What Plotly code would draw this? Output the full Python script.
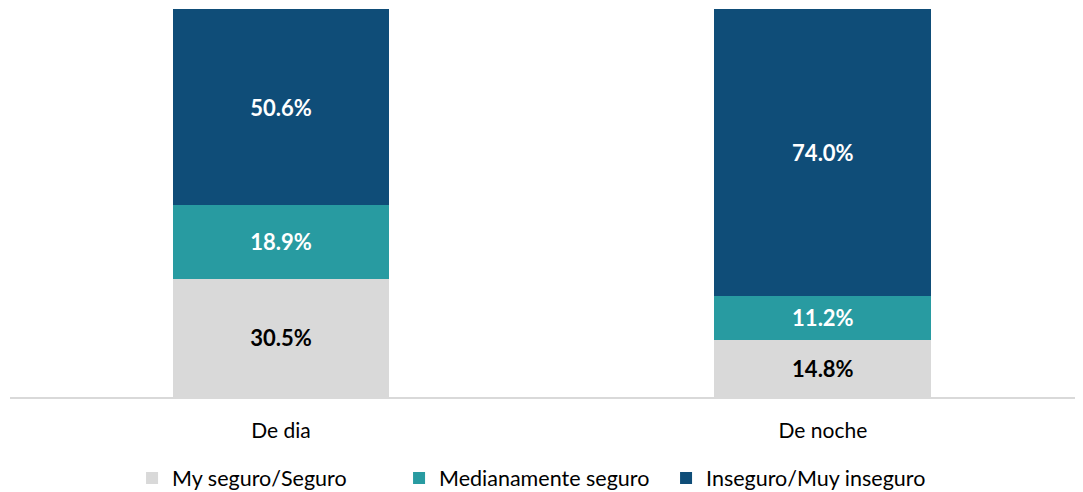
import plotly.graph_objects as go

categories = ["De dia", "De noche"]
seguro = [30.5, 14.8]
mediano = [18.9, 11.2]
inseguro = [50.6, 74.0]
series_names = ["My seguro/Seguro", "Medianamente seguro", "Inseguro/Muy inseguro"]
colors = ["#D9D9D9", "#289BA1", "#0F4D78"]
text_colors = ["#000000", "#FFFFFF", "#FFFFFF"]

FONT = "Lato"
fig = go.Figure()
for name, vals, c, tc in zip(series_names, [seguro, mediano, inseguro], colors, text_colors):
    fig.add_trace(go.Bar(
        x=categories, y=vals, name=name,
        marker=dict(color=c, line=dict(width=0)),
        width=0.4,
        text=[f"{v:.1f}%" for v in vals],
        textposition="inside", insidetextanchor="middle",
        textfont=dict(family=FONT, size=22, color=tc, weight="bold"),
        textangle=0,
        hoverinfo="skip",
    ))

# the page body has an 8px default margin, so the figure is placed at (8, 8)
fig.update_layout(
    barmode="stack",
    width=1075, height=484,
    margin=dict(l=2, r=0, t=1, b=95, autoexpand=False),
    plot_bgcolor="white", paper_bgcolor="white",
    font=dict(family=FONT, size=22, color="#000000"),
    uniformtext=dict(mode=False),
    xaxis=dict(
        type="category", range=[-0.5, 1.48],
        showline=True, linecolor="#D9D9D9", linewidth=2,
        ticks="outside", ticklen=14, tickcolor="rgba(0,0,0,0)",
        tickfont=dict(family=FONT, size=21, color="#000000"),
        showgrid=False, zeroline=False, automargin=False,
    ),
    yaxis=dict(range=[0, 100], visible=False, showgrid=False, zeroline=False),
    legend=dict(
        orientation="h", x=0.487, xanchor="center",
        yref="container", y=0.029, yanchor="middle",
        font=dict(family=FONT, size=21.5, color="#000000"),
        traceorder="normal", itemwidth=30,
        entrywidth=222, entrywidthmode="pixels",
    ),
    showlegend=True,
)

fig.write_html("out.html")
